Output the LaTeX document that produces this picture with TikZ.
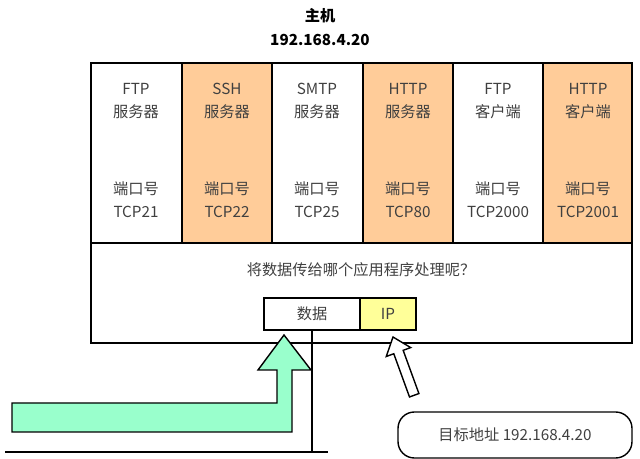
\documentclass[tikz,border=0pt]{standalone}
\usepackage{fontspec}
\setmainfont{Noto Sans CJK SC}
\usetikzlibrary{positioning}
\definecolor{srvorange}{HTML}{FFCC99}
\definecolor{ipyellow}{HTML}{FFFF99}
\definecolor{flowgreen}{HTML}{99FFCC}
\begin{document}
\begin{tikzpicture}[%
    x=0.03cm, y=-0.03cm,
    line width=1.2pt,
    lbl/.style={font=\fontsize{13}{19.5}\selectfont, text=black!75, align=center},
  ]
  \useasboundingbox (0,0) rectangle (640,459);
  \node[font=\bfseries\fontsize{13}{21}\selectfont, align=center] (title) at (320,27) {主机\\192.168.4.20};

  % columns
  \foreach \i/\x/\c in {0/91/white,1/182/srvorange,2/272/white,3/363/srvorange,4/453/white,5/543/srvorange}
    \fill[\c] (\x,63) rectangle ++(90,180);
  \draw (91,63) rectangle (632,343);
  \draw (91,243) -- (632,243);
  \foreach \x in {182,272,363,453,543}
    \draw (\x,63) -- (\x,243);

  \foreach \x/\a/\b/\p in {136/FTP/服务器/21, 227/SSH/服务器/22, 317/SMTP/服务器/25,
                           408/HTTP/服务器/80, 498/FTP/客户端/2000, 588/HTTP/客户端/2001} {
    \node[lbl] at (\x,101) {\a\\\b};
    \node[lbl] at (\x,200) {端口号\\TCP\p};
  }
  \node[lbl] (ask) at (361,270) {将数据传给哪个应用程序处理呢？};

  % packet
  \node[draw, lbl, minimum width=96*0.03cm, minimum height=32*0.03cm, inner sep=0pt] (data) at (312,314) {数据};
  \node[draw, lbl, fill=ipyellow, minimum width=56*0.03cm, minimum height=32*0.03cm, inner sep=0pt, right=-1.2pt of data] (ip) {IP};

  % wire
  \coordinate (wire) at (312,452);
  \draw (data.south) -- (wire);
  \draw (5,452) -- (328,452);

  % green flow arrow
  \draw[fill=flowgreen] (12,403) -- (277,403) -- (277,370) -- (258,370) -- (284,335)
    -- (311,370) -- (292,370) -- (292,432) -- (12,432) -- cycle;

  % white pointer arrow
  \begin{scope}[shift={(393,337)}, x=0.03cm, y=0.03cm, rotate=110]
    \draw[fill=white] (0,0) -- (-16,13) -- (-16,5) -- (-62,5) -- (-62,-5) -- (-16,-5) -- (-16,-13) -- cycle;
  \end{scope}

  \node[draw, lbl, rounded corners=14pt, minimum width=234*0.03cm, minimum height=46*0.03cm] (dst) at (515,435) {目标地址 192.168.4.20};
\end{tikzpicture}
\end{document}
